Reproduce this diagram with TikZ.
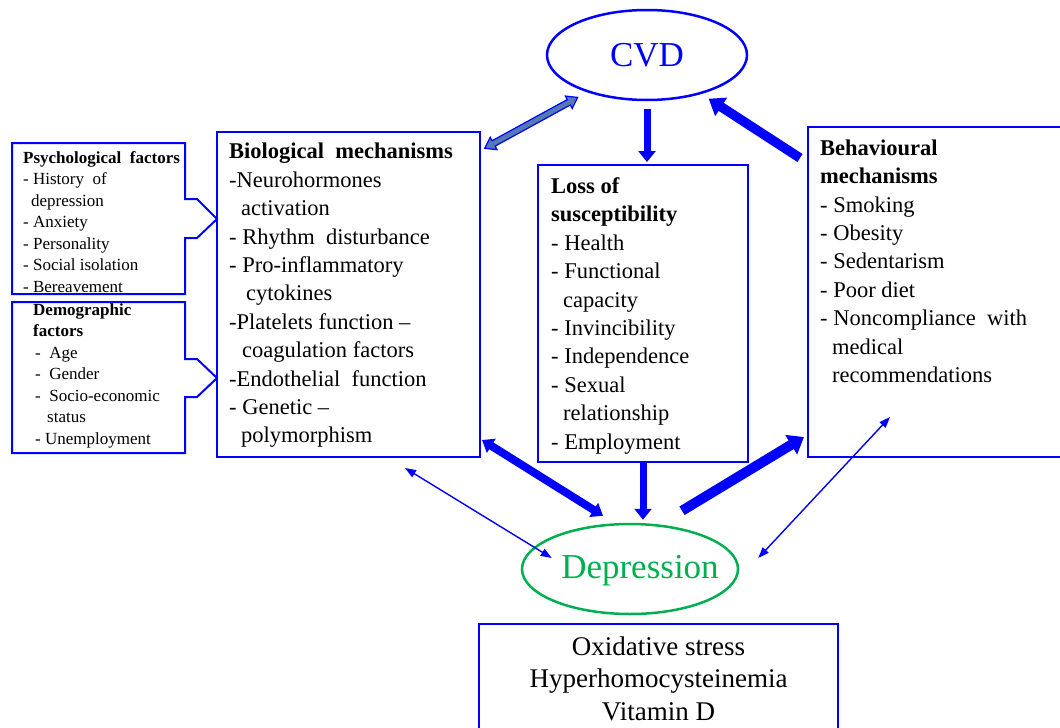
\documentclass[tikz,border=0pt]{standalone}
\usepackage{fontspec}
\setmainfont{Liberation Serif}
\usetikzlibrary{arrows.meta,shapes.geometric,shapes.arrows,calc}
\definecolor{cblue}{RGB}{0,0,255}
\definecolor{cgreen}{RGB}{0,176,80}
\definecolor{csteel}{RGB}{84,122,178}
\tikzset{
  box/.style={draw=cblue, line width=2pt, inner sep=0pt, outer sep=0pt},
  oval/.style={ellipse, line width=2.5pt, inner sep=0pt},
  big/.style={inner sep=0pt, font=\fontsize{35}{40}\selectfont},
  txt/.style={anchor=north west, inner sep=0pt, align=left, font=\fontsize{22.5}{28.4}\selectfont},
  smalltxt/.style={anchor=north west, inner sep=0pt, align=left, font=\fontsize{17}{21.5}\selectfont},
  fat/.style={draw=cblue, line width=#1},
  slim/.style={draw=cblue, line width=1.4pt, {Triangle[length=11pt,width=8pt]}-{Triangle[length=11pt,width=8pt]}},
  hollowarrow/.style={double arrow, draw=cblue, fill=csteel, line width=1.2pt,
    inner xsep=0pt, inner ysep=2.5pt, double arrow head extend=4pt,
    double arrow tip angle=70, minimum height=106pt}
}
\begin{document}
\begin{tikzpicture}[x=1pt, y=-1pt]
  \useasboundingbox (0,0) rectangle (1060,728);

  % outcomes
  \node[oval, draw=cblue, minimum width=200pt, minimum height=90pt] (cvd) at (647,55) {};
  \node[big, text=cblue] (cvdtxt) at (cvd.center) {CVD};
  \node[oval, draw=cgreen, minimum width=216pt, minimum height=90pt] (dep) at (630,569) {};
  \node[big, text=cgreen] (deptxt) at ([xshift=10pt,yshift=-2pt]dep.center) {Depression};

  % mechanism boxes
  \node[box, minimum width=263pt, minimum height=325pt] (bio) at (348.5,294.5) {};
  \node[box, minimum width=210pt, minimum height=297pt] (loss) at (643,313.5) {};
  \node[box, minimum width=262pt, minimum height=330pt] (behav) at (939,292) {};
  \node[box, minimum width=359pt, minimum height=116pt] (risk) at (658.5,682) {};

  % factor boxes with notch arrows
  \draw[cblue, line width=2pt] (12,143) -- (185,143) -- (185,199) -- (197,199) -- (217,219)
    -- (197,238) -- (185,238) -- (185,294) -- (12,294) -- cycle;
  \draw[cblue, line width=2pt] (12,302) -- (185,302) -- (185,359) -- (197,359) -- (217,378)
    -- (197,397) -- (185,397) -- (185,453) -- (12,453) -- cycle;

  \node[txt] (biotxt) at ([xshift=12pt,yshift=-11pt]bio.north west)
    {\textbf{Biological\ \ mechanisms}\\
     -Neurohormones\\
     \hspace*{12pt}activation\\
     - Rhythm\ \ disturbance\\
     - Pro-inflammatory\\
     \hspace*{17pt}cytokines\\
     -Platelets function –\\
     \hspace*{13pt}coagulation factors\\
     -Endothelial\ \ function\\
     - Genetic –\\
     \hspace*{12pt}polymorphism};
  \node[txt] (losstxt) at ([xshift=13pt,yshift=-12.5pt]loss.north west)
    {\textbf{Loss of}\\
     \textbf{susceptibility}\\
     - Health\\
     - Functional\\
     \hspace*{12pt}capacity\\
     - Invincibility\\
     - Independence\\
     - Sexual\\
     \hspace*{12pt}relationship\\
     - Employment};
  \node[txt] (behavtxt) at ([xshift=12pt,yshift=-12.5pt]behav.north west)
    {\textbf{Behavioural}\\
     \textbf{mechanisms}\\
     - Smoking\\
     - Obesity\\
     - Sedentarism\\
     - Poor diet\\
     - Noncompliance\ \ with\\
     \hspace*{12pt}medical\\
     \hspace*{12pt}recommendations};
  \node[smalltxt] (psych) at (23,151.3)
    {\textbf{Psychological\ \ factors}\\
     - History\ \ of\\
     \hspace*{8pt}depression\\
     - Anxiety\\
     - Personality\\
     - Social isolation\\
     - Bereavement};
  \node[smalltxt] (demo) at (33,303.3)
    {\textbf{Demographic}\\
     \textbf{factors}\\
     \hspace*{2pt}-\ \ Age\\
     \hspace*{2pt}-\ \ Gender\\
     \hspace*{2pt}-\ \ Socio-economic\\
     \hspace*{14pt}status\\
     \hspace*{2pt}- Unemployment};
  \node[anchor=north, inner sep=0pt, align=center, font=\fontsize{27}{32.5}\selectfont] (risktxt)
    at ([yshift=-12.4pt]risk.north) {Oxidative stress\\Hyperhomocysteinemia\\Vitamin D};

  % connectors
  \coordinate (hb) at ($(bio.north east)+(5,16)$);
  \coordinate (hc) at ($(cvd.south west)+(2,10)$);
  \node[hollowarrow, rotate=28.7] (bidir) at ($(hb)!0.5!(hc)$) {};

  \draw[fat=7pt, -{Triangle[length=11pt,width=17pt]}, shorten <=8pt, shorten >=3pt]
    (cvd.south) -- (cvd.south |- loss.north);
  \draw[fat=9.5pt, -{Triangle[length=15pt,width=21pt]}]
    ($(behav.north west)+(-8,31)$) -- ($(cvd.south east)+(-10,11)$);
  \draw[fat=8pt, {Triangle[length=11pt,width=16pt]}-{Triangle[length=11pt,width=16pt]}]
    ($(bio.south east)+(2,-17)$) -- ($(dep.north)+(-27,-7)$);
  \draw[fat=7pt, -{Triangle[length=11pt,width=17pt]}, shorten >=3pt]
    (loss.south) -- (loss.south |- dep.north);
  \draw[fat=10pt, -{Triangle[length=15pt,width=22pt]}]
    ($(dep.north)+(52,-12)$) -- ($(behav.south west)+(-4,-20)$);
  \draw[slim] ($(bio.south east)+(-75,11)$) -- ($(dep.west)+(31,-11)$);
  \draw[slim] ($(dep.east)+(19,-11)$) -- ($(behav.south west)+(82,-40)$);
\end{tikzpicture}
\end{document}
